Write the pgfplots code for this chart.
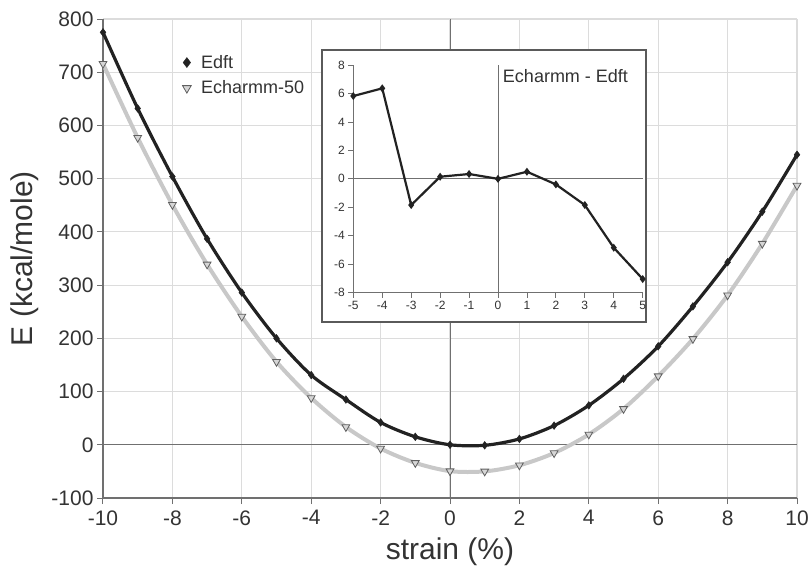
\documentclass[border=0pt]{standalone}
\usepackage{pgfplots}
\pgfplotsset{compat=1.18}
\usepackage{fontspec}
\setmainfont{Liberation Sans}
\definecolor{gridc}{HTML}{DCDCDC}
\definecolor{axc}{HTML}{707070}
\definecolor{txt}{HTML}{333333}
\definecolor{lineb}{HTML}{222222}
\definecolor{lineg}{HTML}{C8C8C8}
\definecolor{trifill}{HTML}{D6D6D6}
\definecolor{triedge}{HTML}{606060}
\begin{document}
\begin{tikzpicture}
\path[use as bounding box] (0,0) rectangle (808pt,568pt);
\begin{axis}[
  at={(103pt,70pt)}, anchor=south west,
  scale only axis, width=694pt, height=479pt,
  xmin=-10, xmax=10, ymin=-100, ymax=800,
  xtick={-10,-8,...,10}, ytick={-100,0,...,800},
  axis x line*=bottom, axis y line*=left,
  axis line style={-, axc, line width=1.3pt},
  tick style={axc, line width=1pt}, tick align=outside, major tick length=6pt,
  grid=major, major grid style={gridc, line width=1.2pt},
  /pgf/number format/assume math mode=true,
  ticklabel style={font=\fontsize{21}{23}\selectfont, text=txt},
  xticklabel style={yshift=-3pt},
  xlabel={strain (\%)}, ylabel={E (kcal/mole)},
  label style={font=\fontsize{30}{34}\selectfont, text=txt},
  xlabel style={at={(axis description cs:0.5,-0.1127)}, anchor=center},
  ylabel style={at={(axis description cs:-0.1125,0.5)}, anchor=center},
  legend style={at={(0.11,0.933)}, anchor=north west, draw=none, fill=none,
    font=\fontsize{18}{20}\selectfont, text=txt, row sep=7pt,
    legend cell align=left},
  clip=false,
]
\draw[axc, line width=1pt] (axis cs:0,-100) -- (axis cs:0,800);
\draw[axc, line width=1pt] (axis cs:-10,0) -- (axis cs:10,0);
\addlegendimage{only marks, mark=diamond*, mark size=5pt, lineb}
\addlegendentry{\hspace{8pt}Edft}
\addlegendimage{only marks, mark=triangle*, mark size=5pt, mark options={rotate=180, fill=trifill, draw=triedge, line width=0.8pt}}
\addlegendentry{\hspace{8pt}Echarmm-50}
\addplot[forget plot, smooth, lineg, line width=4pt, mark=triangle*, mark size=4.5pt,
  mark options={rotate=180, fill=trifill, draw=triedge, line width=0.8pt}] coordinates {
(-10,716) (-9,577) (-8,451) (-7,339) (-6,241) (-5,156) (-4,88) (-3,33.5) (-2,-7) (-1,-34)
(0,-49.5) (1,-50) (2,-38.5) (3,-15.5) (4,19.5) (5,67.5) (6,129) (7,199) (8,281) (9,378) (10,487)};
\addplot[forget plot, smooth, lineb, line width=3.2pt, mark=diamond*, mark size=3.8pt,
  mark options={fill=lineb, draw=lineb, line width=0.5pt}] coordinates {
(-10,775) (-9,632) (-8,504) (-7,387) (-6,286) (-5,200) (-4,131) (-3,85) (-2,42) (-1,15)
(0,0) (1,-1) (2,11) (3,36) (4,74) (5,124) (6,185) (7,260) (8,343) (9,438) (10,545)};
\end{axis}
\draw[axc!80!black, line width=2pt, fill=white] (322pt,246.3pt) rectangle (645.7pt,518pt);
\begin{axis}[
  at={(353.3pt,275.3pt)}, anchor=south west,
  scale only axis, width=289.4pt, height=227.7pt,
  xmin=-5, xmax=5, ymin=-8, ymax=8,
  xtick={-5,-4,...,5}, ytick={-8,-6,...,8},
  axis x line*=bottom, axis y line*=left,
  axis line style={-, axc, line width=1pt},
  tick style={axc, line width=0.8pt}, tick align=outside, major tick length=5pt,
  /pgf/number format/assume math mode=true,
  ticklabel style={font=\fontsize{12}{14}\selectfont, text=txt},
  clip=false,
]
\draw[axc, line width=0.8pt] (axis cs:0,-8) -- (axis cs:0,8);
\draw[axc, line width=0.8pt] (axis cs:-5,0) -- (axis cs:5,0);
\node[anchor=west, font=\fontsize{18}{20}\selectfont, text=txt] at (axis cs:0.05,7.2) {Echarmm - Edft};
\addplot[lineb, line width=2.2pt, mark=diamond*, mark size=2.2pt] coordinates {
(-5,5.82) (-4,6.36) (-3,-1.84) (-2,0.15) (-1,0.34) (0,0) (1,0.5) (2,-0.39) (3,-1.84) (4,-4.84) (5,-7.04)};
\end{axis}
\end{tikzpicture}
\end{document}
